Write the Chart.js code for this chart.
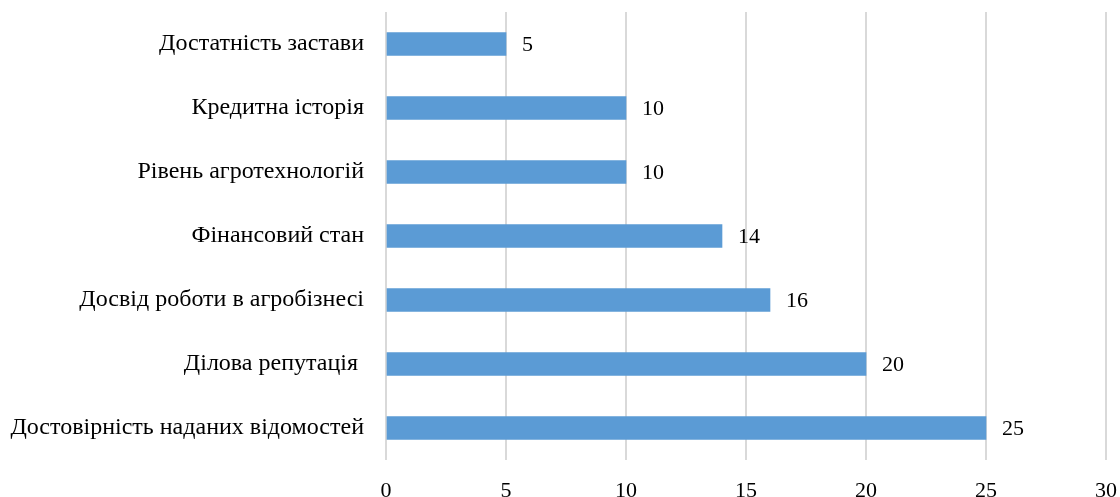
<!DOCTYPE html>
<html>
<head>
<meta charset="utf-8">
<script src="https://cdn.jsdelivr.net/npm/chart.js@4"></script>
<style>
  html, body { margin: 0; padding: 0; background: #fff; }
  #wrap { width: 1120px; height: 497px; }
</style>
</head>
<body>
<div id="wrap"><canvas id="chart"></canvas></div>
<script>
// Categories, top to bottom
const categories = [
    'Достатність застави',
    'Кредитна історія',
    'Рівень агротехнологій',
    'Фінансовий стан',
    'Досвід роботи в агробізнесі',
    'Ділова репутація ',
    'Достовірність наданих відомостей'
];
const values = [5, 10, 10, 14, 16, 20, 25];
const xTicks = [0, 5, 10, 15, 20, 25, 30];

const serif = '"Liberation Serif", "Times New Roman", serif';

// Draws the value next to the end of each bar
const valueLabels = {
    id: 'valueLabels',
    afterDatasetsDraw(chart) {
        const ctx = chart.ctx;
        const meta = chart.getDatasetMeta(0);
        ctx.save();
        ctx.font = '22px ' + serif;
        ctx.fillStyle = '#000';
        ctx.textAlign = 'left';
        ctx.textBaseline = 'middle';
        meta.data.forEach((bar, i) => {
            ctx.fillText(String(values[i]), bar.x + 16, bar.y + 1);
        });
        ctx.restore();
    }
};

new Chart(document.getElementById('chart'), {
    type: 'bar',
    data: {
        labels: categories,
        datasets: [{
            data: values,
            backgroundColor: '#5B9BD5',
            barThickness: 23
        }]
    },
    options: {
        indexAxis: 'y',
        responsive: true,
        maintainAspectRatio: false,
        animation: false,
        layout: { padding: { top: 12, right: 14, left: 0, bottom: 0 } },
        plugins: {
            legend: { display: false },
            tooltip: { enabled: false }
        },
        scales: {
            x: {
                min: 0,
                max: 30,
                afterBuildTicks: (scale) => { scale.ticks = xTicks.map(v => ({ value: v })); },
                afterFit: (scale) => {
                    scale.height = 37;
                    scale.paddingLeft = 0;
                    scale.paddingRight = 0;
                },
                border: { display: false },
                grid: {
                    color: '#d9d9d9',
                    lineWidth: 2,
                    drawTicks: false
                },
                ticks: {
                    color: '#000',
                    padding: 18,
                    font: { family: serif, size: 22 }
                }
            },
            y: {
                afterFit: (scale) => {
                    scale.width = 386;
                    scale.paddingTop = 0;
                    scale.paddingBottom = 0;
                },
                border: { display: false },
                grid: { display: false, drawTicks: false },
                ticks: {
                    color: '#000',
                    padding: 22,
                    font: { family: serif, size: 24 }
                }
            }
        }
    },
    plugins: [valueLabels]
});
</script>
</body>
</html>
